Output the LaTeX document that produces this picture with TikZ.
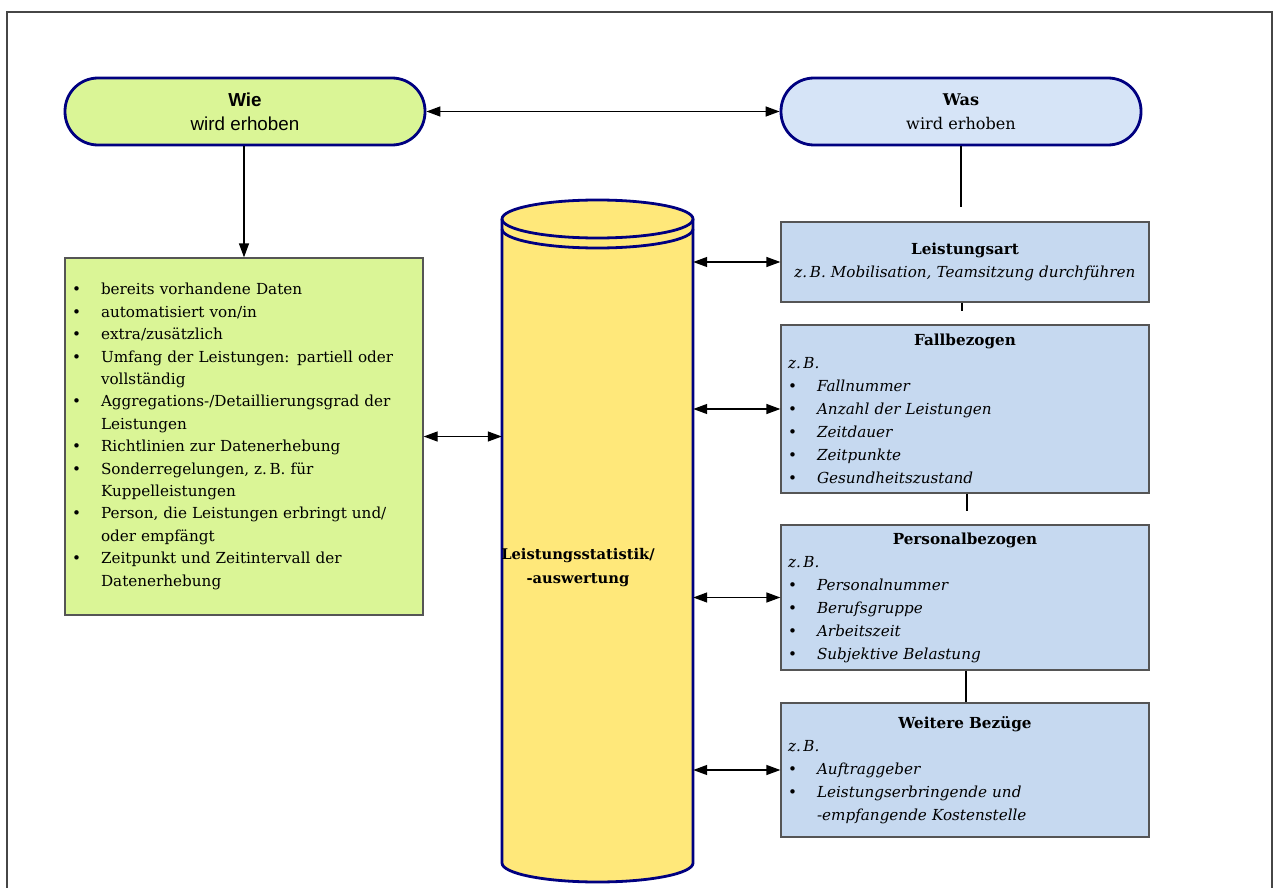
\documentclass[tikz,border=0pt]{standalone}
\usepackage{fontspec}
\setmainfont{DejaVu Serif}
\setsansfont{Liberation Sans}
\usetikzlibrary{arrows.meta}

\definecolor{navy}{RGB}{0,0,128}
\definecolor{framegray}{RGB}{70,70,70}
\definecolor{boxgray}{RGB}{85,85,85}
\definecolor{limefill}{RGB}{218,245,150}
\definecolor{skyfill}{RGB}{214,228,247}
\definecolor{bluefill}{RGB}{198,217,240}
\definecolor{drumfill}{RGB}{255,232,122}

\newcommand\bodyfont{\fontsize{15.2}{23}\selectfont}
\newcommand\bitem[1]{\makebox[29pt][l]{\textbullet}#1}
\newcommand\bcont[1]{\hspace*{29pt}#1}
\newcommand\boxtitle[1]{\makebox[\linewidth][c]{\bfseries #1}}

\tikzset{
  conn/.style={line width=1.3pt, black},
  tip/.tip={Triangle[length=14pt,width=10pt]},
  biarrow/.style={conn, tip-tip},
  toarrow/.style={conn, -tip},
  pill/.style={draw=navy, line width=2.8pt, rounded corners=33pt,
    minimum width=360pt, minimum height=67pt, inner sep=0pt, align=center},
  infobox/.style={draw=boxgray, line width=1.3pt, fill=bluefill,
    text width=354pt, inner xsep=7pt, inner ysep=0pt, align=left, font=\bodyfont},
}

\begin{document}
\begin{tikzpicture}[x=1pt,y=-1pt]
  \useasboundingbox (0,0) rectangle (1274,888);

  % open frame
  \draw[framegray, line width=1.8pt] (7,890) -- (7,12) -- (1272,12) -- (1272,890);

  % header pills
  \node[pill, fill=limefill, font=\sffamily\fontsize{18.8}{24}\selectfont] (wie) at (245,111.5)
    {\textbf{Wie}\\wird erhoben};
  \node[pill, fill=skyfill, font=\fontsize{16.1}{24}\selectfont] (was) at (961,111.5)
    {\textbf{Was}\\wird erhoben};

  % left list box
  \node[draw=boxgray, line width=1.3pt, fill=limefill, text width=344pt, inner xsep=7pt,
        minimum height=357pt, align=left, font=\fontsize{15.2}{22.4}\selectfont] (wiebox) at (244,436.5)
    {\bitem{bereits vorhandene Daten}\\
     \bitem{automatisiert von/in}\\
     \bitem{extra/zusätzlich}\\
     \bitem{Umfang der Leistungen: partiell oder}\\
     \bcont{vollständig}\\
     \bitem{Aggregations-/Detaillierungsgrad der}\\
     \bcont{Leistungen}\\
     \bitem{Richtlinien zur Datenerhebung}\\
     \bitem{Sonderregelungen, z.\,B. für}\\
     \bcont{Kuppelleistungen}\\
     \bitem{Person, die Leistungen erbringt und/}\\
     \bcont{oder empfängt}\\
     \bitem{Zeitpunkt und Zeitintervall der}\\
     \bcont{Datenerhebung}};

  % central data store
  \node[minimum width=191pt, minimum height=644pt, inner sep=0pt] (cyl) at (597.5,541) {};
  \fill[drumfill] (502,219) -- (502,863) arc[start angle=180, end angle=360, x radius=95.5, y radius=-19]
    -- (693,219) arc[start angle=0, end angle=180, x radius=95.5, y radius=-19] -- cycle;
  \draw[navy, line width=2.8pt, line join=round]
    (502,219) -- (502,863) arc[start angle=180, end angle=360, x radius=95.5, y radius=-19] -- (693,219);
  \draw[navy, line width=2.8pt] (597.5,219) ellipse[x radius=95.5, y radius=19];
  \draw[navy, line width=2.8pt] (502,229) arc[start angle=180, end angle=360, x radius=95.5, y radius=-19];
  \node[align=center, font=\bfseries\fontsize{14.7}{24}\selectfont] (cyllabel) at (578,568)
    {Leistungsstatistik/\\-auswertung};

  % right column of categories
  \node[infobox, align=center, minimum height=80pt] (lart) at (965,262)
    {\textbf{Leistungsart}\\\textit{z.\,B. Mobilisation, Teamsitzung durchführen}};
  \node[infobox, minimum height=168pt] (fall) at (965,409)
    {\boxtitle{Fallbezogen}\\
     \textit{z.\,B.}\\
     \bitem{\textit{Fallnummer}}\\
     \bitem{\textit{Anzahl der Leistungen}}\\
     \bitem{\textit{Zeitdauer}}\\
     \bitem{\textit{Zeitpunkte}}\\
     \bitem{\textit{Gesundheitszustand}}};
  \node[infobox, minimum height=145pt] (pers) at (965,597.5)
    {\boxtitle{Personalbezogen}\\
     \textit{z.\,B.}\\
     \bitem{\textit{Personalnummer}}\\
     \bitem{\textit{Berufsgruppe}}\\
     \bitem{\textit{Arbeitszeit}}\\
     \bitem{\textit{Subjektive Belastung}}};
  \node[infobox, minimum height=134pt] (weit) at (965,770)
    {\boxtitle{Weitere Bezüge}\\
     \textit{z.\,B.}\\
     \bitem{\textit{Auftraggeber}}\\
     \bitem{\textit{Leistungserbringende und}}\\
     \bcont{\textit{-empfangende Kostenstelle}}};

  % stubs between the right boxes
  \coordinate (wasend) at (961,207);
  \coordinate (lartend) at (962,311);
  \coordinate (fallend) at (967,511);

  % connectors
  \draw[biarrow] (wie.east) -- (was.west);
  \draw[toarrow] (wie.south -| wiebox.north) -- (wiebox.north);
  \draw[conn] (was.south) -- (wasend);
  \draw[conn] (lart.south -| lartend) -- (lartend);
  \draw[conn] (fall.south -| fallend) -- (fallend);
  \draw[conn] (pers.south -| 966,0) -- (weit.north -| 966,0);
  \draw[biarrow] (wiebox.east) -- (wiebox.east -| cyl.west);
  \draw[biarrow] (lart.west -| cyl.east) -- (lart.west);
  \draw[biarrow] (fall.west -| cyl.east) -- (fall.west);
  \draw[biarrow] (pers.west -| cyl.east) -- (pers.west);
  \draw[biarrow] (weit.west -| cyl.east) -- (weit.west);
\end{tikzpicture}
\end{document}
